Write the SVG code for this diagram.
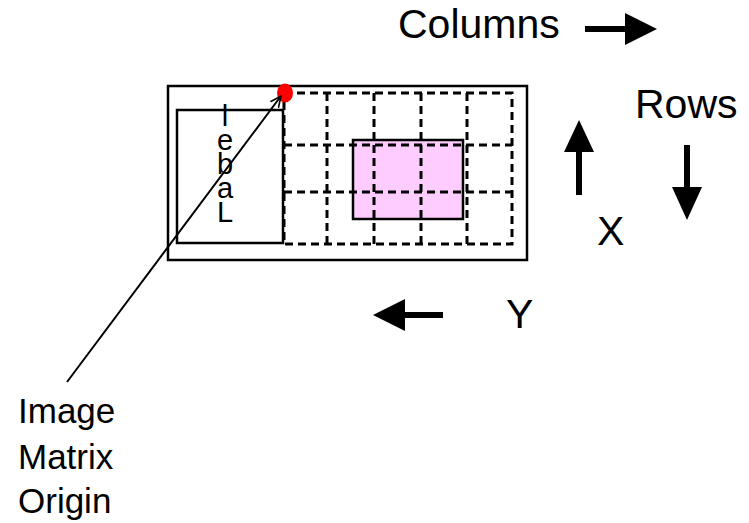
<svg xmlns="http://www.w3.org/2000/svg" width="749" height="523" viewBox="0 0 749 523">
<style>
text{font-family:"Liberation Sans",Arial,sans-serif;fill:#000}
.big{font-size:41px}
.lbl{font-size:29px;writing-mode:vertical-rl;text-orientation:upright;direction:rtl;unicode-bidi:bidi-override;letter-spacing:-8px}
.org{font-size:35px}
.box{fill:none;stroke:#000;stroke-width:2.5}
.grid{fill:none;stroke:#000;stroke-width:3;stroke-dasharray:8 5}
.thick{stroke:#000;stroke-width:6;fill:none}
</style>
<defs>
<marker id="open" viewBox="0 0 12 12" refX="11" refY="6" markerWidth="12" markerHeight="12" markerUnits="userSpaceOnUse" orient="auto">
<path d="M0,1 L11,6 L0,11" fill="none" stroke="#000" stroke-width="1.6"/>
</marker>
</defs>
<rect width="749" height="523" fill="#fff"/>
<g id="frame">
<rect class="box" x="168" y="86" width="359" height="174"/>
</g>
<g id="label">
<rect class="box" x="177" y="110" width="106" height="133"/>
<text class="lbl" x="225" y="220">Label</text>
</g>
<g id="roi">
<rect x="353" y="140" width="110" height="79" fill="#FFCCFF" stroke="#000" stroke-width="2.5"/>
</g>
<g id="matrix">
<rect class="grid" x="284" y="93" width="228" height="151"/>
<path class="grid" d="M327,93V244M374,93V244M421,93V244M467,93V244M284,145H512M284,192H512"/>
<ellipse cx="285" cy="93" rx="8" ry="9.5" fill="#FF0000"/>
</g>
<g id="connectors">
<path d="M67,382 L281,96" stroke="#000" stroke-width="2" marker-end="url(#open)"/>
<path class="thick" d="M585,29H632"/>
<polygon points="625,13 657,29 625,45"/>
<path class="thick" d="M687,145V192"/>
<polygon points="672,187 702,187 687,220"/>
<path class="thick" d="M579,195V148"/>
<polygon points="564,152 594,152 579,120"/>
<path class="thick" d="M443,315H400"/>
<polygon points="405,299 405,331 373,315"/>
</g>
<g id="texts">
<text class="big" x="398" y="38">Columns</text>
<text class="big" x="635" y="118">Rows</text>
<text class="big" x="597" y="245">X</text>
<text class="big" x="506" y="328">Y</text>
<text class="org" x="18" y="423">Image</text>
<text class="org" x="18" y="469">Matrix</text>
<text class="org" x="18" y="513">Origin</text>
</g>
</svg>
